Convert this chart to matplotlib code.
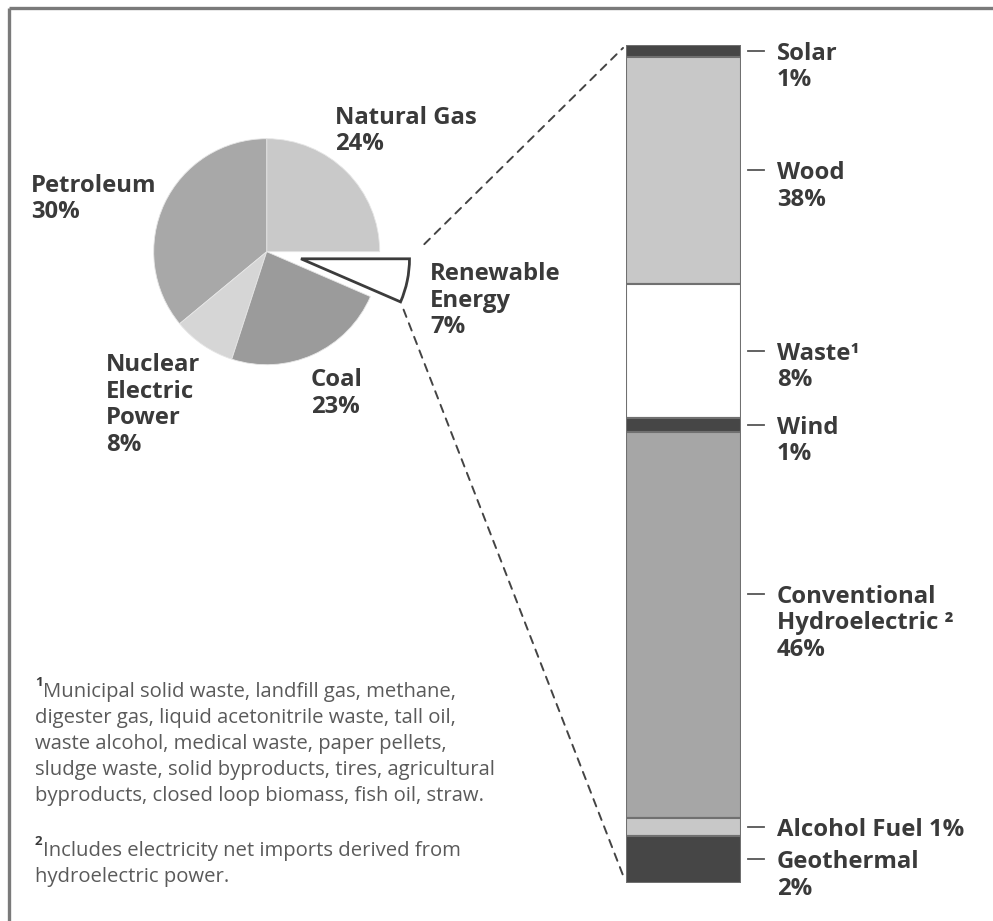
import matplotlib

matplotlib.use("Agg")
import matplotlib.pyplot as plt
from matplotlib.patches import ConnectionPatch
from matplotlib.transforms import offset_copy
import numpy as np

# ---- data -----------------------------------------------------------------
pie_labels = ["Natural Gas\n24%", "Petroleum\n30%", "Nuclear\nElectric\nPower\n8%",
              "Coal\n23%", "Renewable\nEnergy\n7%"]
# slice sizes as drawn in the figure (share of the circle, %)
pie_shares = [25.0, 36.0, 9.0, 23.5, 6.5]
pie_colors = ["#c9c9c9", "#a8a8a8", "#d6d6d6", "#9b9b9b", "#ffffff"]

bar_labels = ["Solar\n1%", "Wood\n38%", "Waste\u00b9\n8%", "Wind\n1%",
              "Conventional\nHydroelectric \u00b2\n46%", "Alcohol Fuel 1%", "Geothermal\n2%"]
# segment heights as drawn in the column (share of the column, %)
bar_shares = [1.43, 27.09, 15.99, 1.67, 46.06, 2.15, 5.61]
bar_colors = ["#464646", "#c8c8c8", "#ffffff", "#464646", "#a6a6a6", "#c8c8c8", "#464646"]

footnote_1 = ["Municipal solid waste, landfill gas, methane,",
              "digester gas, liquid acetonitrile waste, tall oil,",
              "waste alcohol, medical waste, paper pellets,",
              "sludge waste, solid byproducts, tires, agricultural",
              "byproducts, closed loop biomass, fish oil, straw."]
footnote_2 = ["Includes electricity net imports derived from",
              "hydroelectric power."]

W, H = 993, 921
plt.rcParams["font.family"] = ["Open Sans", "DejaVu Sans"]
TXT = "#3a3a3a"
NOTE = "#5a5a5a"
LABEL_PT = 17.2
LABEL_PITCH = 26.5  # px between label lines

fig = plt.figure(figsize=(W / 100, H / 100), dpi=100)
fig.patch.set_facecolor("white")


def px_axes(x0, y0, x1, y1):
    """Axes from pixel box (top-left origin)."""
    return fig.add_axes([x0 / W, (H - y1) / H, (x1 - x0) / W, (y1 - y0) / H])


def put_lines(ax, x, y, lines, transform, pitch, **kw):
    """One text per line, first line centred on y, fixed pixel pitch."""
    for i, line in enumerate(lines):
        tr = offset_copy(transform, fig=fig, y=-i * pitch * 0.72, units="points")
        ax.text(x, y, line, transform=tr, ha="left", va="center_baseline", **kw)


# overlay in pixel coordinates for frame and free text
over = fig.add_axes([0, 0, 1, 1], zorder=0)
over.set_xlim(0, W)
over.set_ylim(H, 0)
over.axis("off")
over.plot([8.5, W], [8.5, 8.5], color="#7a7a7a", lw=2.4, solid_capstyle="butt")
over.plot([8.5, 8.5], [8.5, H], color="#7a7a7a", lw=2.4, solid_capstyle="butt")

# ---- pie ------------------------------------------------------------------
R = 113
cx, cy = 266.7, 251.7
pie_ax = px_axes(cx - 1.5 * R, cy - 1.5 * R, cx + 1.5 * R, cy + 1.5 * R)
pie_ax.set_zorder(2)
wedges, _ = pie_ax.pie(pie_shares, colors=pie_colors, startangle=0, counterclock=True,
                       explode=[0, 0, 0, 0, 0.31], radius=1.0,
                       wedgeprops=dict(edgecolor="#e6e6e6", linewidth=0.6))
ren = wedges[-1]
ren.set_radius(0.96)
ren.set_edgecolor("#3c3c3c")
ren.set_linewidth(2.0)
pie_ax.set_xlim(-1.5, 1.5)
pie_ax.set_ylim(-1.5, 1.5)
pie_ax.set_aspect("equal")
pie_ax.axis("off")

label_pos = [(335, 115), (31, 183), (106, 362), (311, 377), (430, 271)]
for lab, (x, y) in zip(pie_labels, label_pos):
    put_lines(over, x, y, lab.split("\n"), over.transData, LABEL_PITCH,
              fontsize=LABEL_PT, fontweight="bold", color=TXT)

# ---- stacked column -------------------------------------------------------
bx0, bx1, by0, by1 = 626, 741, 45, 883
bar_ax = px_axes(bx0, by0, bx1, by1)
bar_ax.set_zorder(2)
bottoms = np.concatenate([[0], np.cumsum(bar_shares)[:-1]])
bar_ax.bar([0] * len(bar_shares), bar_shares, bottom=bottoms, width=1.0,
           color=bar_colors, edgecolor="#707070", linewidth=1.5)
bar_ax.set_xlim(-0.5, 0.5)
bar_ax.set_ylim(100, 0)
bar_ax.axis("off")

centers = bottoms + np.array(bar_shares) / 2
label_y = centers.copy()
label_y[4] -= 3.7  # hydro label sits above the segment middle
trans = bar_ax.get_yaxis_transform()
for lab, y in zip(bar_labels, label_y):
    bar_ax.plot([1.06, 1.2], [y, y], color="#555555", lw=1.3, transform=trans, clip_on=False)
    put_lines(bar_ax, 1.313, y, lab.split("\n"), trans, LABEL_PITCH,
              fontsize=LABEL_PT, fontweight="bold", color=TXT)

# dashed leaders from the renewable wedge to the column
th1, th2 = np.deg2rad(ren.theta1), np.deg2rad(ren.theta2)
wc = np.array(ren.center)
r = ren.r
top_pt = wc + r * np.array([np.cos(th2), np.sin(th2)])
bot_pt = wc + r * np.array([np.cos(th1), np.sin(th1)])
for pt, yb, sa, sb in [(top_pt, 0, 15, 3), (bot_pt, 100, 6, 6)]:
    con = ConnectionPatch(xyA=tuple(pt), coordsA=pie_ax.transData,
                          xyB=(-0.5, yb), coordsB=bar_ax.transData,
                          color="#444444", lw=1.4, linestyle=(0, (4, 3.5)),
                          shrinkA=sa, shrinkB=sb)
    fig.add_artist(con)

# ---- footnotes ------------------------------------------------------------
NOTE_PT = 14.6
over.text(35, 681, "1", fontsize=9.5, fontweight="bold", color=TXT,
          ha="left", va="center_baseline")
put_lines(over, 43, 689, footnote_1[:1], over.transData, 26, fontsize=NOTE_PT, color=NOTE)
put_lines(over, 35, 715, footnote_1[1:], over.transData, 26, fontsize=NOTE_PT, color=NOTE)
over.text(35, 840, "2", fontsize=9.5, fontweight="bold", color=TXT,
          ha="left", va="center_baseline")
put_lines(over, 43, 848, footnote_2[:1], over.transData, 26, fontsize=NOTE_PT, color=NOTE)
put_lines(over, 35, 874, footnote_2[1:], over.transData, 26, fontsize=NOTE_PT, color=NOTE)

fig.savefig("out.png", dpi=100)
